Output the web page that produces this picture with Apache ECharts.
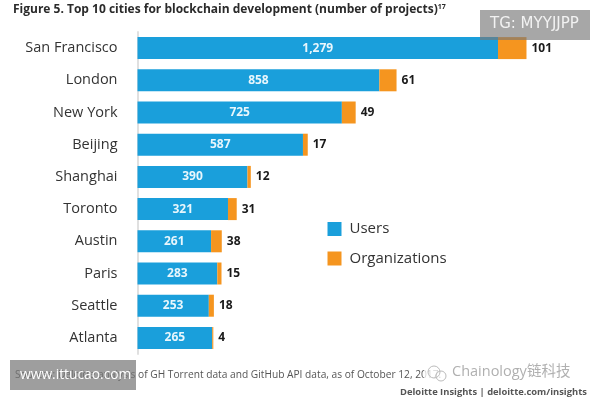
<!DOCTYPE html>
<html><head><meta charset="utf-8">
<style>html,body{margin:0;padding:0;background:#fff}#c{width:600px;height:400px}</style>
<script src="https://cdn.jsdelivr.net/npm/echarts@6/dist/echarts.min.js"></script>
</head><body><div id="c"></div>
<script>
const cities = ["San Francisco","London","New York","Beijing","Shanghai","Toronto","Austin","Paris","Seattle","Atlanta"];
const users = [1279,858,725,587,390,321,261,283,253,265];
const organizations = [101,61,49,17,12,31,38,15,18,4];
const font = '"Open Sans", sans-serif';
const chart = echarts.init(document.getElementById('c'), null, {renderer:'canvas'});
chart.setOption({
  animation:false,
  backgroundColor:'#fff',
  title:{left:13,top:3,padding:0,
    text:'{a|Figure 5. Top 10 cities for blockchain development (number of projects)}{s|17}',
    textStyle:{rich:{
      a:{fontFamily:font,fontWeight:700,fontSize:12,color:'#2b2b2b',lineHeight:14},
      s:{fontFamily:font,fontWeight:700,fontSize:7,color:'#2b2b2b',verticalAlign:'top',lineHeight:14}
    }}},
  legend:{left:327.5,top:221.5,padding:0,orient:'vertical',itemWidth:14,itemHeight:14,itemGap:14.5,icon:'rect',
    selectedMode:false,textStyle:{fontFamily:font,fontSize:15,color:'#333',padding:[0,0,0,3]}},
  grid:{left:137.5,top:32,width:451,height:322},
  xAxis:{type:'value',min:0,max:1600,show:false},
  yAxis:{type:'category',inverse:true,data:cities,
    axisTick:{show:false},axisLine:{lineStyle:{color:'#e0e0e0',width:2}},
    axisLabel:{fontFamily:font,fontSize:14.5,color:'#333',margin:20,padding:[2,0,0,0]}},
  series:[
    {name:'Users',type:'bar',stack:'t',data:users,barWidth:22,
     itemStyle:{color:'#1a9fdb'},
     label:{show:true,position:'inside',fontFamily:font,fontWeight:700,fontSize:12,color:'#e8f6fc',
       formatter:p=>p.value.toLocaleString('en-US')}},
    {name:'Organizations',type:'bar',stack:'t',data:organizations,barWidth:22,
     itemStyle:{color:'#f5951f'},
     label:{show:true,position:'right',distance:5,fontFamily:font,fontWeight:700,fontSize:12,color:'#1a1a1a'}}
  ],
  graphic:[
    {type:'text',left:15,top:370,z:10,style:{text:'Sources: Deloitte analysis of GH Torrent data and GitHub API data, as of October 12, 2017.',
      font:'10.2px "Open Sans", sans-serif',fill:'#555'}},
    {type:'text',left:400,top:388,z:10,style:{text:'Deloitte Insights | deloitte.com/insights',
      font:'700 9.4px "Open Sans", sans-serif',fill:'#555'}},
    {type:'rect',z:20,shape:{x:10,y:360,width:126,height:30},style:{fill:'rgba(120,120,120,0.72)'}},
    {type:'text',left:20,top:368,z:21,style:{text:'www.ittucao.com',font:'13.8px "Open Sans", sans-serif',fill:'#fff'}},
    {type:'rect',z:20,shape:{x:480,y:10,width:110,height:30},style:{fill:'rgba(120,120,120,0.65)'}},
    {type:'text',left:490,top:17,z:21,style:{text:'TG: MYYJJPP',font:'15px "DejaVu Sans", sans-serif',fill:'#f2f2f2'}},
    {type:'rect',z:19,shape:{x:424,y:364,width:149,height:20},style:{fill:'rgba(255,255,255,0.75)'}},
    {type:'circle',z:21,shape:{cx:434,cy:372,r:6},style:{fill:'none',stroke:'#bbb',lineWidth:1}},
    {type:'circle',z:21,shape:{cx:441,cy:376,r:5},style:{fill:'none',stroke:'#bbb',lineWidth:1}},
    {type:'text',left:452,top:365,z:21,style:{text:'Chainology链科技',font:'14.5px "Open Sans","Noto Sans CJK SC", sans-serif',fill:'#b0b0b0'}}
  ]
});
</script></body></html>
